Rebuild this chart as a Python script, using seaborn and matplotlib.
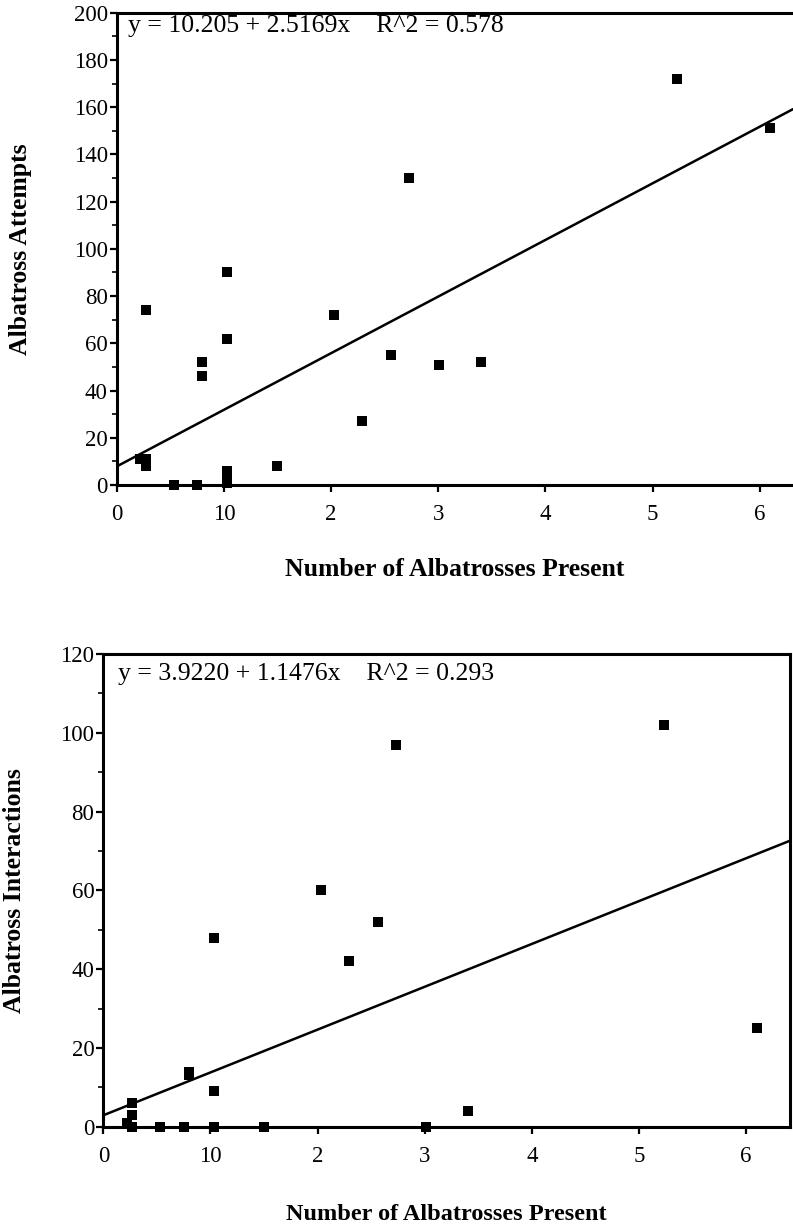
import matplotlib
matplotlib.use("Agg")
import matplotlib.pyplot as plt
import seaborn as sns
import pandas as pd
from matplotlib.ticker import MultipleLocator

# ---------------- data ----------------
albatrosses_present = [0.22, 0.27, 0.27, 0.27, 0.53, 0.75, 0.80, 0.80, 1.03, 1.03, 1.03,
                       1.03, 1.03, 1.50, 2.03, 2.29, 2.56, 2.73, 3.01, 3.40, 5.23, 6.10]
albatross_attempts = [11, 74, 11, 8, 0, 0, 52, 46, 90, 62, 6,
                      3, 1, 8, 72, 27, 55, 130, 51, 52, 172, 151]
albatross_interactions = [1, 0, 3, 6, 0, 0, 13, 14, 48, 9, 0,
                          0, 0, 0, 60, 42, 52, 97, 0, 4, 102, 25]

x_tick_values = [0, 1, 2, 3, 4, 5, 6]
x_tick_labels = ["0", "10", "2", "3", "4", "5", "6"]
eq_top = "y = 10.205 + 2.5169x    R^2 = 0.578"
eq_bottom = "y = 3.9220 + 1.1476x    R^2 = 0.293"
x_label = "Number of Albatrosses Present"
y_label_top = "Albatross Attempts"
y_label_bottom = "Albatross Interactions"

df = pd.DataFrame({"present": albatrosses_present,
                   "attempts": albatross_attempts,
                   "interactions": albatross_interactions})

# ---------------- style ----------------
sns.set_theme(style="white")
plt.rcParams["font.family"] = ["Liberation Serif", "DejaVu Serif"]

fig = plt.figure(figsize=(7.93, 12.28), dpi=100)
ax1 = fig.add_axes([0.1472, 0.60505, 0.8528, 0.38461])
ax2 = fig.add_axes([0.1303, 0.08249, 0.8659, 0.38494])

def style_axes(ax, ymax, xmax, eq, eq_xy, ylab, ylab_xy, xlab_xy, xlab_size, right_spine):
    ax.set_xlim(0, xmax)
    ax.set_ylim(0, ymax)
    ax.set_xticks(x_tick_values)
    ax.set_xticklabels(x_tick_labels)
    ax.yaxis.set_major_locator(MultipleLocator(20))
    ax.yaxis.set_minor_locator(MultipleLocator(10))
    ax.tick_params(axis="both", which="major", direction="out", length=5, width=1.6,
                   color="black", labelsize=16.5, labelcolor="black", left=True, bottom=True)
    ax.tick_params(axis="x", which="major", pad=9)
    ax.tick_params(axis="y", which="major", pad=1.5)
    ax.tick_params(axis="y", which="minor", direction="out", length=3.5, width=1.2,
                   color="black", left=True)
    for side in ["left", "bottom", "top", "right"]:
        ax.spines[side].set_color("black")
        ax.spines[side].set_linewidth(2.2)
    ax.spines["right"].set_visible(right_spine)
    ax.set_xlabel(x_label, fontsize=xlab_size, fontweight="bold", color="black")
    ax.set_ylabel(ylab, fontsize=18.5, fontweight="bold", color="black")
    ax.xaxis.set_label_coords(*xlab_xy)
    ax.yaxis.set_label_coords(*ylab_xy)
    ax.text(eq_xy[0], eq_xy[1], eq, transform=ax.transAxes, fontsize=18.5,
            ha="left", va="baseline", color="black")

for ax, col in [(ax1, "attempts"), (ax2, "interactions")]:
    if col == "attempts":
        style_axes(ax, 200, 6.31, eq_top, (0.0167, 0.9585), y_label_top,
                   (-0.125, 0.50), (0.4426, -0.1546), 18.5, False)
    else:
        style_axes(ax, 120, 6.41, eq_bottom, (0.0214, 0.9456), y_label_bottom,
                   (-0.113, 0.473), (0.432, -0.1636), 17.5, True)
    sns.regplot(data=df, x="present", y=col, ax=ax, scatter=False, ci=None,
                truncate=False, line_kws={"color": "black", "linewidth": 1.8})
    sns.scatterplot(data=df, x="present", y=col, ax=ax, marker="s", s=42,
                    color="black", edgecolor="black", linewidth=0, clip_on=False, zorder=5)
    ax.set_xlabel(x_label)
    ax.set_ylabel(y_label_top if col == "attempts" else y_label_bottom)

fig.savefig("out.png", dpi=100)
